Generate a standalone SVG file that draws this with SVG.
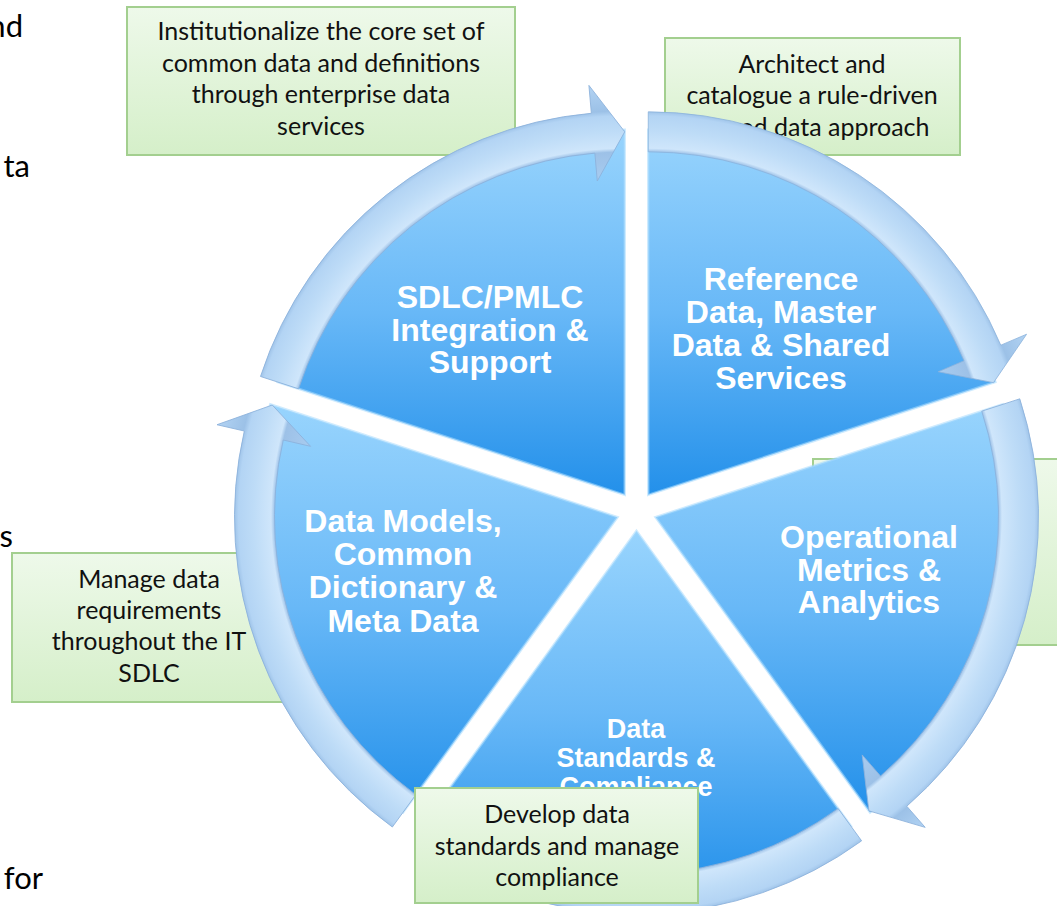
<svg xmlns="http://www.w3.org/2000/svg" width="1057" height="906" viewBox="0 0 1057 906">
  <defs>
    <linearGradient id="boxFill" x1="0" y1="0" x2="0" y2="1">
      <stop offset="0" stop-color="#eef9ea"/>
      <stop offset="1" stop-color="#d5efc9"/>
    </linearGradient>
    <linearGradient id="sliceFill" x1="0" y1="0" x2="0" y2="1">
      <stop offset="0" stop-color="#98d4fd"/>
      <stop offset="0.5" stop-color="#68b8f7"/>
      <stop offset="1" stop-color="#2390ea"/>
    </linearGradient>
    <!-- bevelled band for the curved arrows, centred on each slice corner -->
    <radialGradient id="ringFill" gradientUnits="userSpaceOnUse" cx="0" cy="0" r="411">
      <stop offset="0.760" stop-color="#a9cdf1"/>
      <stop offset="0.834" stop-color="#9dc1e7"/>
      <stop offset="0.843" stop-color="#cfe6fb"/>
      <stop offset="0.885" stop-color="#bedcf7"/>
      <stop offset="0.922" stop-color="#b3d4f4"/>
      <stop offset="0.934" stop-color="#9cc1e7"/>
      <stop offset="1" stop-color="#b2d3f3"/>
    </radialGradient>
    <!-- one curved arrow spanning 72 degrees, tail at the top, head at 72 degrees clockwise -->
    <path id="arc72" d="M0,-383 A383,383 0 0 1 352.55,-149.65 L378.33,-160.59 L345.23,-112.17 L289.96,-123.08 L315.73,-134.02 A343,343 0 0 0 0,-343 Z"/>
  </defs>
  <style>
    .bg { font-family: Lato, "Liberation Sans", sans-serif; font-size: 31px; fill: #000; }
    .note rect { fill: url(#boxFill); stroke: #a3cf8f; stroke-width: 2; }
    .note text { font-family: Lato, "Liberation Sans", sans-serif; font-size: 25px; fill: #111; text-anchor: middle; }
    .slice path.fill { fill: url(#sliceFill); stroke: #a8dafd; stroke-width: 2.5; stroke-opacity: 0.55; }
    .ring use { fill: url(#ringFill); stroke: #8cb2dc; stroke-width: 0.8; }
    .label { font-family: "Liberation Sans", Arial, sans-serif; font-weight: bold; font-size: 32px; fill: #fff; text-anchor: middle; }
  </style>

  <rect width="1057" height="906" fill="#fff"/>

  <!-- page text running off the left edge -->
  <g id="page-text">
    <text class="bg" x="23" y="37" text-anchor="end">nd</text>
    <text class="bg" x="30" y="177" text-anchor="end">ta</text>
    <text class="bg" x="13" y="547" text-anchor="end">ss</text>
    <text class="bg" x="43" y="889" text-anchor="end">for</text>
  </g>

  <!-- callouts sitting behind the wheel -->
  <g id="note-institutionalize" class="note">
    <rect x="127" y="7" width="388" height="148"/>
    <text x="321" y="40">Institutionalize the core set of</text>
    <text x="321" y="72">common data and definitions</text>
    <text x="321" y="103">through enterprise data</text>
    <text x="321" y="135">services</text>
  </g>
  <g id="note-architect" class="note">
    <rect x="665" y="38" width="295" height="117"/>
    <text x="812" y="73">Architect and</text>
    <text x="812" y="104">catalogue a rule-driven</text>
    <text x="812" y="136">shared data approach</text>
  </g>
  <g id="note-metrics" class="note">
    <rect x="813" y="459" width="270" height="186"/>
  </g>
  <g id="note-requirements" class="note">
    <rect x="12" y="553" width="273" height="149"/>
    <text x="149" y="588">Manage data</text>
    <text x="149" y="619">requirements</text>
    <text x="149" y="650">throughout the IT</text>
    <text x="149" y="682">SDLC</text>
  </g>

  <!-- wheel segments -->
  <g id="seg-reference" class="slice">
    <path class="fill" d="M648.26,494.82 L648.26,129.82 A365,365 0 0 1 995.40,382.03 Z"/>
    <g class="ring" transform="translate(648.26,494.82)"><use href="#arc72"/></g>
    <text class="label" x="781" y="290">Reference</text>
    <text class="label" x="781" y="323">Data, Master</text>
    <text class="label" x="781" y="356">Data &amp; Shared</text>
    <text class="label" x="781" y="389">Services</text>
  </g>
  <g id="seg-operational" class="slice">
    <path class="fill" d="M655.52,517.18 L1002.66,404.39 A365,365 0 0 1 870.06,812.47 Z"/>
    <g class="ring" transform="translate(655.52,517.18) rotate(72)"><use href="#arc72"/></g>
    <text class="label" x="869" y="548">Operational</text>
    <text class="label" x="869" y="581">Metrics &amp;</text>
    <text class="label" x="869" y="613">Analytics</text>
  </g>
  <g id="seg-standards" class="slice">
    <path class="fill" d="M636.5,531 L851.04,826.29 A365,365 0 0 1 421.96,826.29 Z"/>
    <g class="ring" transform="translate(636.5,531) rotate(144)"><use href="#arc72"/></g>
    <text class="label" x="636" y="738" style="font-size:27px">Data</text>
    <text class="label" x="636" y="767" style="font-size:27px">Standards &amp;</text>
    <text class="label" x="636" y="796" style="font-size:27px">Compliance</text>
  </g>
  <g id="seg-models" class="slice">
    <path class="fill" d="M617.48,517.18 L402.94,812.47 A365,365 0 0 1 270.34,404.39 Z"/>
    <g class="ring" transform="translate(617.48,517.18) rotate(216)"><use href="#arc72"/></g>
    <text class="label" x="403" y="532">Data Models,</text>
    <text class="label" x="403" y="565">Common</text>
    <text class="label" x="403" y="598">Dictionary &amp;</text>
    <text class="label" x="403" y="632">Meta Data</text>
  </g>
  <g id="seg-sdlc" class="slice">
    <path class="fill" d="M624.74,494.82 L277.60,382.03 A365,365 0 0 1 624.74,129.82 Z"/>
    <g class="ring" transform="translate(624.74,494.82) rotate(288)"><use href="#arc72"/></g>
    <text class="label" x="490" y="308">SDLC/PMLC</text>
    <text class="label" x="490" y="341">Integration &amp;</text>
    <text class="label" x="490" y="373">Support</text>
  </g>

  <!-- callout laid over the bottom segment -->
  <g id="note-standards" class="note">
    <rect x="415" y="788" width="283" height="115"/>
    <text x="557" y="823">Develop data</text>
    <text x="557" y="855">standards and manage</text>
    <text x="557" y="886">compliance</text>
  </g>
</svg>
